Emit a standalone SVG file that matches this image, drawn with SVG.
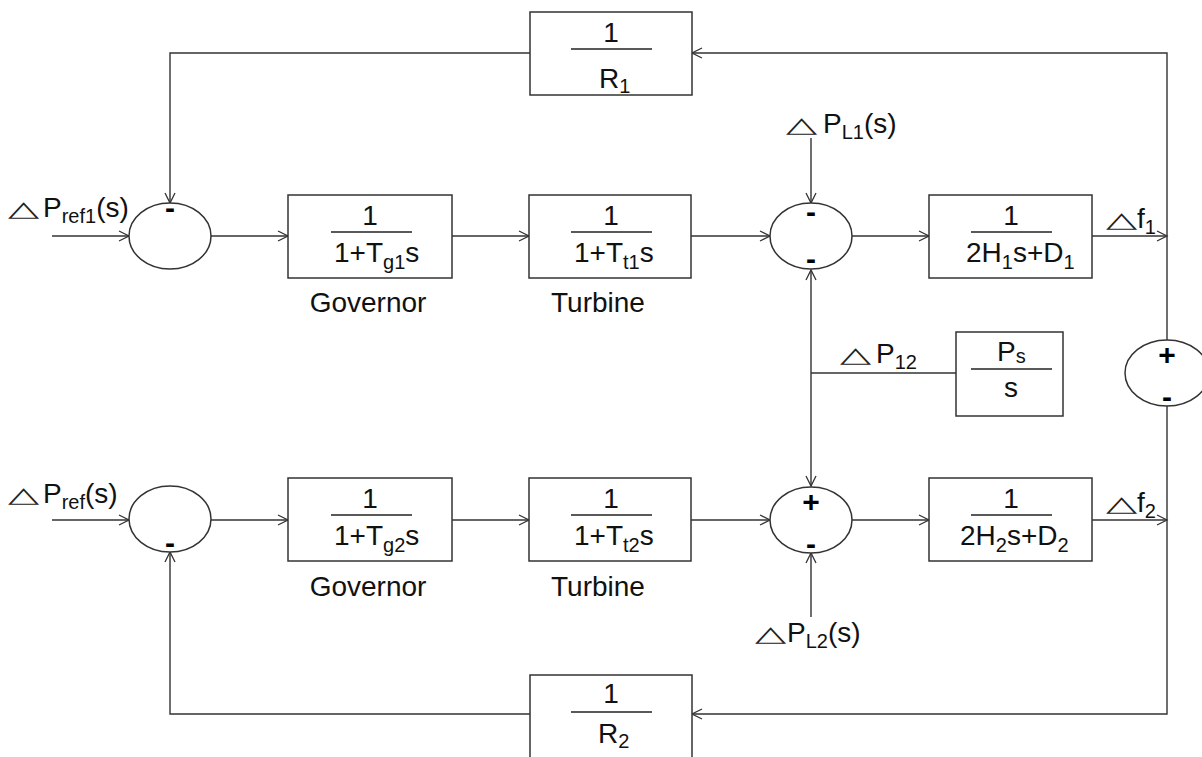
<svg xmlns="http://www.w3.org/2000/svg" width="1202" height="757" viewBox="0 0 1202 757">
<defs>
<marker id="arr" markerUnits="userSpaceOnUse" markerWidth="14" markerHeight="14" refX="11" refY="6" orient="auto">
<path d="M1,1 L11,6 L1,11" fill="none" stroke="#333" stroke-width="1.3"/>
</marker>
<style>
.ln{fill:none;stroke:#333;stroke-width:1.4}
.bx{fill:#fff;stroke:#333;stroke-width:1.5}
.fr{stroke:#222;stroke-width:1.4}
.t{font-family:"Liberation Sans",Arial,sans-serif;font-size:28px;fill:#111}
.c{text-anchor:middle}
.sub{font-size:20px}
.sg{font-family:"Liberation Sans",Arial,sans-serif;font-weight:bold;font-size:30px;fill:#000;text-anchor:middle}
.tri{font-family:"DejaVu Sans",sans-serif;font-size:30px;fill:#222}
</style>
</defs>
<rect width="1202" height="757" fill="#fff"/>

<g id="connectors">
<path class="ln" d="M52,236 H129" marker-end="url(#arr)"/>
<path class="ln" d="M52,520 H129" marker-end="url(#arr)"/>
<path class="ln" d="M211,236 H288" marker-end="url(#arr)"/>
<path class="ln" d="M211,520 H288" marker-end="url(#arr)"/>
<path class="ln" d="M452,236 H529" marker-end="url(#arr)"/>
<path class="ln" d="M452,520 H529" marker-end="url(#arr)"/>
<path class="ln" d="M691,236 H770" marker-end="url(#arr)"/>
<path class="ln" d="M691,520 H770" marker-end="url(#arr)"/>
<path class="ln" d="M852,236 H929" marker-end="url(#arr)"/>
<path class="ln" d="M852,520 H929" marker-end="url(#arr)"/>
<path class="ln" d="M1092,236 H1167" marker-end="url(#arr)"/>
<path class="ln" d="M1092,520 H1167" marker-end="url(#arr)"/>
<path class="ln" d="M811,138 V203" marker-end="url(#arr)"/>
<path class="ln" d="M811,617 V553" marker-end="url(#arr)"/>
<path class="ln" d="M811,373 V270" marker-end="url(#arr)"/>
<path class="ln" d="M811,373 V486" marker-end="url(#arr)"/>
<path class="ln" d="M811,373 H956"/>
<path class="ln" d="M1167,340 V53 H692" marker-end="url(#arr)"/>
<path class="ln" d="M1167,406 V714 H692" marker-end="url(#arr)"/>
<path class="ln" d="M530,53 H170 V203" marker-end="url(#arr)"/>
<path class="ln" d="M530,714 H170 V552" marker-end="url(#arr)"/>
</g>

<g id="sum1">
<ellipse class="bx" cx="170" cy="236" rx="41" ry="33"/>
<text class="sg" x="170" y="218">-</text>
</g>
<g id="sum2">
<ellipse class="bx" cx="170" cy="519" rx="41" ry="33"/>
<text class="sg" x="170" y="553">-</text>
</g>
<g id="sum3">
<ellipse class="bx" cx="811" cy="236" rx="41" ry="33"/>
<text class="sg" x="811" y="222">-</text>
<text class="sg" x="811" y="269">-</text>
</g>
<g id="sum4">
<ellipse class="bx" cx="811" cy="520" rx="41" ry="33"/>
<text class="sg" x="811" y="512">+</text>
<text class="sg" x="811" y="554">-</text>
</g>
<g id="sum5">
<ellipse class="bx" cx="1167" cy="373" rx="42" ry="33"/>
<text class="sg" x="1167" y="365">+</text>
<text class="sg" x="1167" y="407">-</text>
</g>

<g id="gov1">
<rect class="bx" x="288" y="195" width="164" height="83"/>
<text class="t c" x="370" y="225">1</text>
<line class="fr" x1="331" y1="232" x2="412" y2="232"/>
<text class="t" x="334" y="262">1+T<tspan class="sub" dy="7">g1</tspan><tspan dy="-7">s</tspan></text>
<text class="t c" x="368" y="312">Governor</text>
</g>
<g id="turb1">
<rect class="bx" x="529" y="195" width="162" height="83"/>
<text class="t c" x="611" y="225">1</text>
<line class="fr" x1="571" y1="232" x2="652" y2="232"/>
<text class="t" x="574" y="262">1+T<tspan class="sub" dy="7">t1</tspan><tspan dy="-7">s</tspan></text>
<text class="t c" x="598" y="312">Turbine</text>
</g>
<g id="gov2">
<rect class="bx" x="288" y="478" width="164" height="83"/>
<text class="t c" x="370" y="508">1</text>
<line class="fr" x1="331" y1="515" x2="412" y2="515"/>
<text class="t" x="334" y="545">1+T<tspan class="sub" dy="7">g2</tspan><tspan dy="-7">s</tspan></text>
<text class="t c" x="368" y="596">Governor</text>
</g>
<g id="turb2">
<rect class="bx" x="529" y="478" width="162" height="83"/>
<text class="t c" x="611" y="508">1</text>
<line class="fr" x1="571" y1="515" x2="652" y2="515"/>
<text class="t" x="574" y="545">1+T<tspan class="sub" dy="7">t2</tspan><tspan dy="-7">s</tspan></text>
<text class="t c" x="598" y="596">Turbine</text>
</g>
<g id="area1">
<rect class="bx" x="929" y="195" width="163" height="83"/>
<text class="t c" x="1011" y="225">1</text>
<line class="fr" x1="971" y1="232" x2="1052" y2="232"/>
<text class="t" x="966" y="262">2H<tspan class="sub" dy="7">1</tspan><tspan dy="-7">s+D</tspan><tspan class="sub" dy="7">1</tspan></text>
</g>
<g id="area2">
<rect class="bx" x="929" y="478" width="163" height="83"/>
<text class="t c" x="1011" y="508">1</text>
<line class="fr" x1="971" y1="515" x2="1052" y2="515"/>
<text class="t" x="960" y="545">2H<tspan class="sub" dy="7">2</tspan><tspan dy="-7">s+D</tspan><tspan class="sub" dy="7">2</tspan></text>
</g>
<g id="r1">
<rect class="bx" x="530" y="12" width="162" height="83"/>
<text class="t c" x="611" y="42">1</text>
<line class="fr" x1="571" y1="49" x2="652" y2="49"/>
<text class="t" x="599" y="88">R<tspan class="sub" dy="5">1</tspan></text>
</g>
<g id="r2">
<rect class="bx" x="530" y="675" width="162" height="90"/>
<text class="t c" x="611" y="703">1</text>
<line class="fr" x1="571" y1="712" x2="652" y2="712"/>
<text class="t" x="598" y="743">R<tspan class="sub" dy="5">2</tspan></text>
</g>
<g id="tie">
<rect class="bx" x="956" y="332" width="107" height="84"/>
<text class="t" x="997" y="361">P<tspan class="sub" dy="2">s</tspan></text>
<line class="fr" x1="971" y1="369" x2="1052" y2="369"/>
<text class="t c" x="1011" y="397">s</text>
</g>

<g id="labels">
<text class="tri" transform="translate(8,216) scale(1.35,0.72)">△</text>
<text class="t" x="43" y="217">P<tspan class="sub" dy="6">ref1</tspan><tspan dy="-6">(s)</tspan></text>
<text class="tri" transform="translate(8,502) scale(1.35,0.72)">△</text>
<text class="t" x="43" y="503">P<tspan class="sub" dy="6">ref</tspan><tspan dy="-6">(s)</tspan></text>
<text class="tri" transform="translate(786,132) scale(1.35,0.72)">△</text>
<text class="t" x="823" y="133">P<tspan class="sub" dy="6">L1</tspan><tspan dy="-6">(s)</tspan></text>
<text class="tri" transform="translate(840,362) scale(1.35,0.72)">△</text>
<text class="t" x="876" y="363">P<tspan class="sub" dy="6">12</tspan></text>
<text class="tri" transform="translate(1106,227) scale(1.35,0.72)">△</text>
<text class="t" x="1137" y="228">f<tspan class="sub" dy="6">1</tspan></text>
<text class="tri" transform="translate(1106,511) scale(1.35,0.72)">△</text>
<text class="t" x="1137" y="512">f<tspan class="sub" dy="6">2</tspan></text>
<text class="tri" transform="translate(755,641) scale(1.35,0.72)">△</text>
<text class="t" x="787" y="642">P<tspan class="sub" dy="6">L2</tspan><tspan dy="-6">(s)</tspan></text>
</g>
</svg>
